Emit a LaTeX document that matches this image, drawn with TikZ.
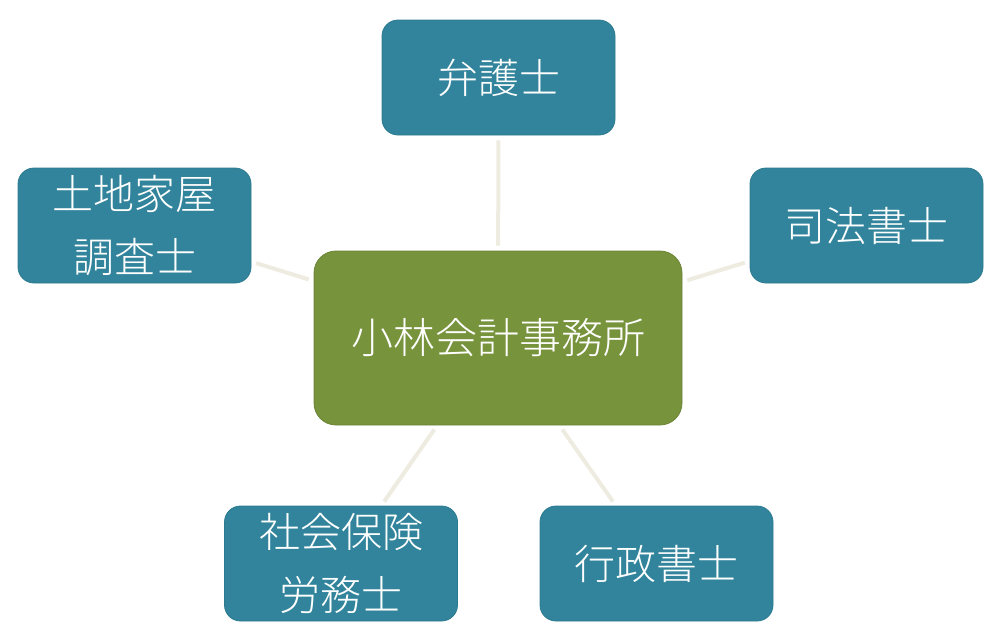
\documentclass[tikz,border=0pt]{standalone}
\usepackage{fontspec}
\setmainfont{Noto Sans CJK JP}[UprightFont={* Light}]
\usepackage{tikz}
\usetikzlibrary{positioning}

\definecolor{tealbox}{HTML}{31849B}
\definecolor{tealedge}{HTML}{2C7A8F}
\definecolor{olivebox}{HTML}{77933C}
\definecolor{linkline}{HTML}{EEECE1}

\begin{document}
\begin{tikzpicture}[x=.5pt,y=-.5pt,
  office/.style={draw=tealedge,fill=tealbox,rounded corners=8pt,line width=.4pt,
    minimum width=116.5pt,minimum height=57.5pt,inner sep=0pt,text=white,align=center,
    font=\fontsize{20.5}{32.5}\selectfont},
  hub/.style={draw=olivebox!90!black,fill=olivebox,rounded corners=11pt,line width=.4pt,
    minimum width=184pt,minimum height=87pt,inner sep=0pt,text=white,
    font=\fontsize{21}{24}\selectfont},
  link/.style={draw=linkline,line width=2pt,shorten >=2.5pt,shorten <=2.5pt}]
\useasboundingbox (0,0) rectangle (1000,639);
\node[hub] (kobayashi) at (498,338) {小林会計事務所};
\node[office] (bengo) at (498.5,77.5) {弁護士};
\node[office] (shiho) at (866.5,225.5) {司法書士};
\node[office] (tochi) at (134.5,225.5) {土地家屋\\[-1pt]調査士};
\node[office] (shaho) at (341,563.5) {社会保険\\[-1pt]労務士};
\node[office] (gyosei) at (656.5,563.5) {行政書士};
\draw[link] (kobayashi)--(bengo);
\draw[link] (kobayashi)--(shiho);
\draw[link] (kobayashi)--(tochi);
\draw[link] (kobayashi)--(shaho);
\draw[link] (kobayashi)--(gyosei);
\end{tikzpicture}
\end{document}
